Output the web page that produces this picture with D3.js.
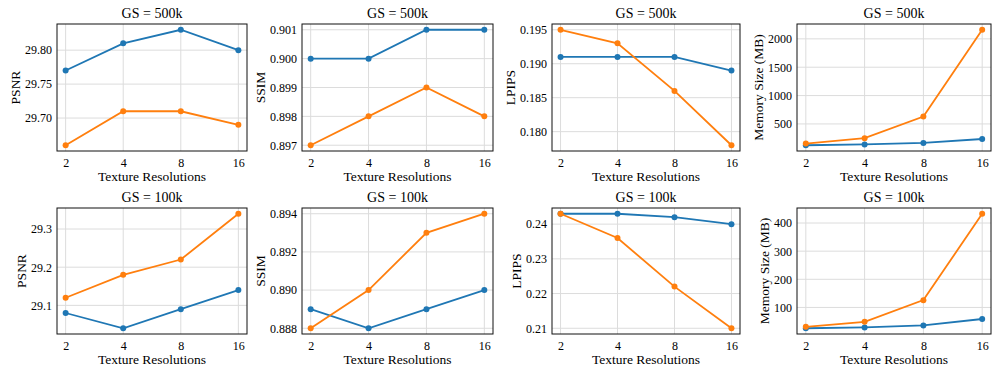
<!DOCTYPE html>
<html>
<head>
<meta charset="utf-8">
<script src="https://cdn.jsdelivr.net/npm/d3@7"></script>
<style>
body { margin: 0; background: #fff; }
svg { display: block; }
text { font-family: "Liberation Serif", "Times New Roman", serif; fill: #000; }
.grid line { stroke: #dcdcdc; stroke-width: 1; }
.axis path { display: none; }
.axis line { display: none; }
.axis text { font-size: 12px; }
</style>
</head>
<body>
<script>
//categories on the x axis
var resolutions = ["2", "4", "8", "16"];

//GS = 500k values (blue, orange)
var psnr500Blue = [29.77, 29.81, 29.83, 29.80];
var psnr500Orange = [29.66, 29.71, 29.71, 29.69];
var ssim500Blue = [0.900, 0.900, 0.901, 0.901];
var ssim500Orange = [0.897, 0.898, 0.899, 0.898];
var lpips500Blue = [0.191, 0.191, 0.191, 0.189];
var lpips500Orange = [0.195, 0.193, 0.186, 0.178];
var mem500Blue = [125, 140, 165, 235];
var mem500Orange = [155, 250, 630, 2160];

//GS = 100k values (blue, orange)
var psnr100Blue = [29.08, 29.04, 29.09, 29.14];
var psnr100Orange = [29.12, 29.18, 29.22, 29.34];
var ssim100Blue = [0.889, 0.888, 0.889, 0.890];
var ssim100Orange = [0.888, 0.890, 0.893, 0.894];
var lpips100Blue = [0.243, 0.243, 0.242, 0.240];
var lpips100Orange = [0.243, 0.236, 0.222, 0.210];
var mem100Blue = [26, 29, 36, 59];
var mem100Orange = [31, 49, 126, 433];

//y tick values
var psnr500Ticks = [29.70, 29.75, 29.80];
var ssim500Ticks = [0.897, 0.898, 0.899, 0.900, 0.901];
var lpips500Ticks = [0.180, 0.185, 0.190, 0.195];
var mem500Ticks = [500, 1000, 1500, 2000];
var psnr100Ticks = [29.1, 29.2, 29.3];
var ssim100Ticks = [0.888, 0.890, 0.892, 0.894];
var lpips100Ticks = [0.21, 0.22, 0.23, 0.24];
var mem100Ticks = [100, 200, 300, 400];

var blue = "#1f77b4", orange = "#ff7f0e";

//panel boxes (layout)
var colLeft = [57, 302, 552, 797], colRight = [247, 493, 740, 991];
var rowTop = [24, 208], rowBottom = [151, 334];

var panels = [
    {title: "GS = 500k", label: "PSNR", a: psnr500Blue, b: psnr500Orange, ticks: psnr500Ticks, fmt: ".2f"},
    {title: "GS = 500k", label: "SSIM", a: ssim500Blue, b: ssim500Orange, ticks: ssim500Ticks, fmt: ".3f"},
    {title: "GS = 500k", label: "LPIPS", a: lpips500Blue, b: lpips500Orange, ticks: lpips500Ticks, fmt: ".3f"},
    {title: "GS = 500k", label: "Memory Size (MB)", a: mem500Blue, b: mem500Orange, ticks: mem500Ticks, fmt: "d"},
    {title: "GS = 100k", label: "PSNR", a: psnr100Blue, b: psnr100Orange, ticks: psnr100Ticks, fmt: ".1f"},
    {title: "GS = 100k", label: "SSIM", a: ssim100Blue, b: ssim100Orange, ticks: ssim100Ticks, fmt: ".3f"},
    {title: "GS = 100k", label: "LPIPS", a: lpips100Blue, b: lpips100Orange, ticks: lpips100Ticks, fmt: ".2f"},
    {title: "GS = 100k", label: "Memory Size (MB)", a: mem100Blue, b: mem100Orange, ticks: mem100Ticks, fmt: "d"}
];

var svg = d3.select("body")
    .append("svg")
    .attr("width", 996)
    .attr("height", 375);

panels.forEach(function(p, i){
    var left = colLeft[i % 4], right = colRight[i % 4];
    var top = rowTop[Math.floor(i / 4)], bottom = rowBottom[Math.floor(i / 4)];

    //categorical x with matplotlib-like 5% margins
    var x = d3.scalePoint()
        .domain(resolutions)
        .range([left, right])
        .padding(0.15);

    var all = p.a.concat(p.b);
    var lo = d3.min(all), hi = d3.max(all), pad = (hi - lo) * 0.05;
    var y = d3.scaleLinear()
        .domain([lo - pad, hi + pad])
        .range([bottom, top]);

    var g = svg.append("g").attr("class", "panel");

    //grid
    var grid = g.append("g").attr("class", "grid");
    grid.selectAll(".vg")
        .data(resolutions)
        .enter()
        .append("line")
        .attr("x1", function(d){ return x(d); })
        .attr("x2", function(d){ return x(d); })
        .attr("y1", top)
        .attr("y2", bottom);
    grid.selectAll(".hg")
        .data(p.ticks)
        .enter()
        .append("line")
        .attr("x1", left)
        .attr("x2", right)
        .attr("y1", function(d){ return y(d); })
        .attr("y2", function(d){ return y(d); });

    //axes
    var yAxis = g.append("g")
        .attr("class", "axis")
        .attr("transform", "translate(" + left + ",0)")
        .call(d3.axisLeft(y).tickValues(p.ticks).tickFormat(d3.format(p.fmt)).tickSize(0).tickPadding(5));
    g.append("g")
        .attr("class", "axis")
        .attr("transform", "translate(0," + bottom + ")")
        .call(d3.axisBottom(x).tickSize(0).tickPadding(7));

    //series
    [[p.a, blue], [p.b, orange]].forEach(function(s){
        var pts = resolutions.map(function(r, j){ return [r, s[0][j]]; });
        g.append("path")
            .datum(pts)
            .attr("fill", "none")
            .attr("stroke", s[1])
            .attr("stroke-width", 1.8)
            .attr("d", d3.line()
                .x(function(d){ return x(d[0]); })
                .y(function(d){ return y(d[1]); }));
        g.selectAll(null)
            .data(pts)
            .enter()
            .append("circle")
            .attr("cx", function(d){ return x(d[0]); })
            .attr("cy", function(d){ return y(d[1]); })
            .attr("r", 3)
            .attr("fill", s[1]);
    });

    //frame
    g.append("rect")
        .attr("x", left)
        .attr("y", top)
        .attr("width", right - left)
        .attr("height", bottom - top)
        .attr("fill", "none")
        .attr("stroke", "#111")
        .attr("stroke-width", 1);

    //title
    g.append("text")
        .attr("x", (left + right) / 2)
        .attr("y", top - 6)
        .attr("text-anchor", "middle")
        .style("font-size", "14px")
        .text(p.title);

    //x label
    g.append("text")
        .attr("x", (left + right) / 2)
        .attr("y", bottom + 30)
        .attr("text-anchor", "middle")
        .style("font-size", "13.5px")
        .text("Texture Resolutions");

    //y label, placed left of the widest tick label
    var tw = d3.max(yAxis.selectAll("text").nodes(), function(n){ return n.getComputedTextLength(); });
    g.append("text")
        .attr("transform", "translate(" + (left - 5 - tw - 5) + "," + ((top + bottom) / 2) + ") rotate(-90)")
        .attr("text-anchor", "middle")
        .style("font-size", "13.5px")
        .text(p.label);
});
</script>
</body>
</html>
